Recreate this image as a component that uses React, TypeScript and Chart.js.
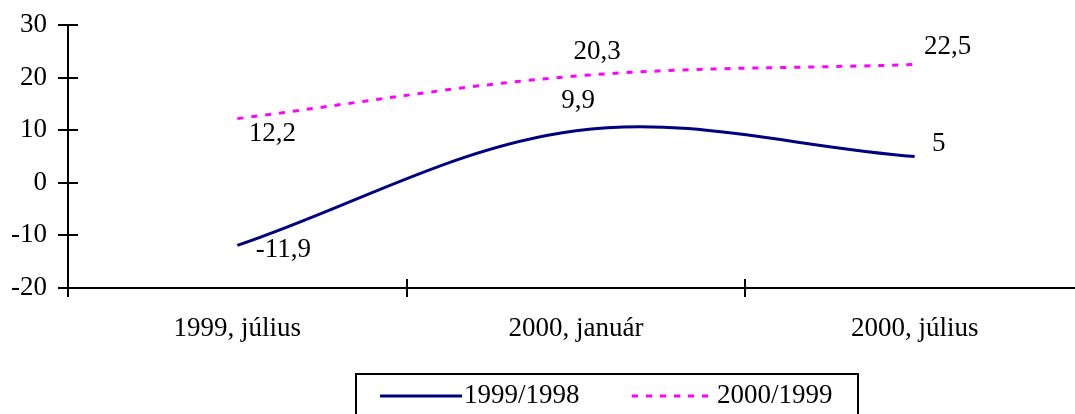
import React, { useEffect, useRef } from "react";
import { Chart, registerables } from "chart.js";

Chart.register(...registerables);

const categories = ["1999, július", "2000, január", "2000, július"];
const series1Name = "1999/1998";
const series1Values = [-11.9, 9.9, 5];
const series2Name = "2000/1999";
const series2Values = [12.2, 20.3, 22.5];
const yMin = -20;
const yMax = 30;
const yStep = 10;

const FONT = '"Liberation Serif", "Times New Roman", serif';
const FS = 27;
const NAVY = "#000080";
const MAGENTA = "#FF00FF";

const fmt = (v: number) => String(v).replace(".", ",");

// label offsets relative to the data point (style only)
const s1Offsets = [
  [46, 5],
  [2, -30],
  [24, -13],
];
const s2Offsets = [
  [35, 15],
  [21, -24],
  [33, -18],
];

const decorPlugin = {
  id: "decor",
  afterDraw(chart: any) {
    const ctx = chart.ctx as CanvasRenderingContext2D;
    const area = chart.chartArea;
    const xs = chart.scales.x;
    const ys = chart.scales.y;
    ctx.save();
    ctx.strokeStyle = "#000";
    ctx.lineWidth = 2;
    ys.ticks.forEach((t: any) => {
      const y = Math.round(ys.getPixelForValue(t.value));
      ctx.beginPath();
      ctx.moveTo(area.left - 10, y);
      ctx.lineTo(area.left + 10, y);
      ctx.stroke();
    });
    for (let i = 0; i <= categories.length; i++) {
      const x = Math.round(xs.getPixelForValue(i - 0.5));
      ctx.beginPath();
      ctx.moveTo(x, area.bottom - 9);
      ctx.lineTo(x, area.bottom + 9);
      ctx.stroke();
    }
    ctx.fillStyle = "#000";
    ctx.font = `${FS}px ${FONT}`;
    ctx.textAlign = "center";
    ctx.textBaseline = "middle";
    const m1 = chart.getDatasetMeta(0);
    const m2 = chart.getDatasetMeta(1);
    m1.data.forEach((p: any, i: number) => {
      ctx.fillText(fmt(series1Values[i]), p.x + s1Offsets[i][0], p.y + s1Offsets[i][1]);
    });
    m2.data.forEach((p: any, i: number) => {
      ctx.fillText(fmt(series2Values[i]), p.x + s2Offsets[i][0], p.y + s2Offsets[i][1]);
    });
    ctx.lineWidth = 2;
    ctx.strokeRect(356, 374, 502, 60);
    const ly = 396;
    ctx.strokeStyle = NAVY;
    ctx.lineWidth = 3;
    ctx.beginPath();
    ctx.moveTo(380, ly);
    ctx.lineTo(462, ly);
    ctx.stroke();
    ctx.strokeStyle = MAGENTA;
    ctx.setLineDash([6, 8]);
    ctx.beginPath();
    ctx.moveTo(632, ly);
    ctx.lineTo(716, ly);
    ctx.stroke();
    ctx.setLineDash([]);
    ctx.textAlign = "left";
    ctx.fillStyle = "#000";
    ctx.fillText(series1Name, 464, ly);
    ctx.fillText(series2Name, 717, ly);
    ctx.restore();
  },
};

export default function App() {
  const ref = useRef<HTMLCanvasElement | null>(null);
  useEffect(() => {
    if (!ref.current) return;
    const chart = new Chart(ref.current, {
      type: "line",
      data: {
        labels: categories,
        datasets: [
          {
            label: series1Name,
            data: series1Values,
            borderColor: NAVY,
            borderWidth: 3,
            pointRadius: 0,
            tension: 0.35,
            fill: false,
          },
          {
            label: series2Name,
            data: series2Values,
            borderColor: MAGENTA,
            borderWidth: 3,
            borderDash: [6, 8],
            pointRadius: 0,
            tension: 0.35,
            fill: false,
          },
        ],
      },
      options: {
        animation: false,
        responsive: false,
        layout: { padding: { left: 0, right: 16, top: 25, bottom: 82 } },
        plugins: { legend: { display: false }, tooltip: { enabled: false } },
        scales: {
          x: {
            type: "category",
            offset: true,
            grid: { display: false, drawTicks: false },
            border: { display: true, color: "#000", width: 2 },
            ticks: {
              color: "#000",
              font: { family: FONT, size: FS },
              padding: 25,
              maxRotation: 0,
              autoSkip: false,
            },
            afterFit: (s: any) => {
              s.height = 60;
              s.paddingLeft = 0;
              s.paddingRight = 0;
            },
          },
          y: {
            min: yMin,
            max: yMax,
            grid: { display: false, drawTicks: false },
            border: { display: true, color: "#000", width: 2 },
            ticks: {
              stepSize: yStep,
              color: "#000",
              font: { family: FONT, size: FS },
              padding: 21,
            },
            afterFit: (s: any) => {
              s.width = 68;
              s.paddingTop = 0;
              s.paddingBottom = 0;
            },
          },
        },
      },
      plugins: [decorPlugin],
    });
    return () => chart.destroy();
  }, []);
  return (
    <div
      style={{
        position: "fixed",
        left: 0,
        top: 0,
        width: 1075,
        height: 414,
        overflow: "hidden",
        background: "#fff",
      }}
    >
      <canvas ref={ref} width={1100} height={430} />
    </div>
  );
}
